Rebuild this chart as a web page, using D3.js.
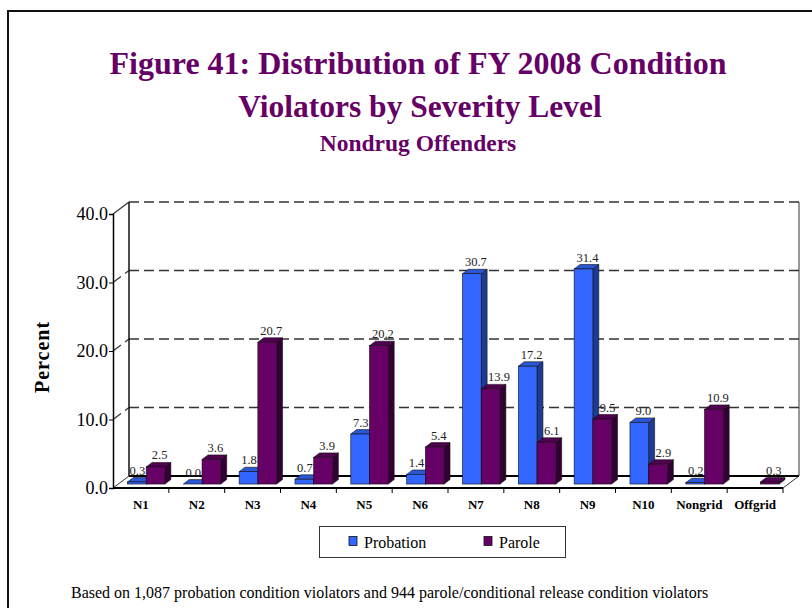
<!DOCTYPE html>
<html>
<head>
<meta charset="utf-8">
<script src="https://cdn.jsdelivr.net/npm/d3@7"></script>
<style>
  body { margin: 0; background: #fff; }
  text { font-family: "Liberation Serif", "Times New Roman", serif; }
</style>
</head>
<body>
<div id="chart"></div>
<script>
// data
var categories = ["N1", "N2", "N3", "N4", "N5", "N6", "N7", "N8", "N9", "N10", "Nongrid", "Offgrid"];
var series = ["Probation", "Parole"];
var probation = [0.3, 0.0, 1.8, 0.7, 7.3, 1.4, 30.7, 17.2, 31.4, 9.0, 0.2, null];
var parole = [2.5, 3.6, 20.7, 3.9, 20.2, 5.4, 13.9, 6.1, 9.5, 2.9, 10.9, 0.3];
var yTicks = [0, 10, 20, 30, 40];

var width = 812, height = 608;
var plot = {left: 113, right: 783, bottom: 488, top: 214};
var depth = {dx: 16, dy: -12};          // floor depth
var barFront = 0.33, barBack = 0.70;    // bar position inside the depth

var colors = {
    Probation: {front: "#3366ff", top: "#2b56d6", side: "#1f3a94"},
    Parole:    {front: "#660066", top: "#520052", side: "#330033"}
};
var purple = "#660066";

var svg = d3.select("#chart").append("svg")
    .attr("width", width)
    .attr("height", height);

// outer frame
svg.append("rect")
    .attr("x", 8).attr("y", 11)
    .attr("width", 830).attr("height", 640)
    .attr("fill", "none")
    .attr("stroke", "#111")
    .attr("stroke-width", 2);

// titles
svg.append("text")
    .attr("x", 418).attr("y", 74)
    .attr("text-anchor", "middle")
    .style("font-size", "32px").style("font-weight", "bold")
    .attr("fill", purple)
    .text("Figure 41: Distribution of FY 2008 Condition");
svg.append("text")
    .attr("x", 420).attr("y", 117)
    .attr("text-anchor", "middle")
    .style("font-size", "31.5px").style("font-weight", "bold")
    .attr("fill", purple)
    .text("Violators by Severity Level");
svg.append("text")
    .attr("x", 418).attr("y", 151)
    .attr("text-anchor", "middle")
    .style("font-size", "23.5px").style("font-weight", "bold")
    .attr("fill", purple)
    .text("Nondrug Offenders");

var y = d3.scaleLinear().domain([0, 40]).range([plot.bottom, plot.top]);
var x = d3.scaleBand().domain(categories).range([plot.left, plot.right]);
var xs = d3.scaleBand().domain(series).range([0, x.bandwidth()]).paddingOuter(0.49);

// back wall and side wall gridlines
var grid = svg.append("g");
yTicks.forEach(function(t) {
    if (t == 0) return;
    grid.append("line")
        .attr("x1", plot.left + depth.dx).attr("x2", plot.right + depth.dx)
        .attr("y1", y(t) + depth.dy).attr("y2", y(t) + depth.dy)
        .attr("stroke", "#333").attr("stroke-width", 1.3)
        .attr("stroke-dasharray", "10,5");
    grid.append("line")
        .attr("x1", plot.left).attr("x2", plot.left + depth.dx)
        .attr("y1", y(t)).attr("y2", y(t) + depth.dy)
        .attr("stroke", "#333").attr("stroke-width", 1.2)
        .attr("stroke-dasharray", t == 40 ? null : "10,5");
});

// back wall edges
grid.append("line")
    .attr("x1", plot.left + depth.dx).attr("x2", plot.left + depth.dx)
    .attr("y1", y(40) + depth.dy).attr("y2", y(0) + depth.dy)
    .attr("stroke", "#111").attr("stroke-width", 1.5);
grid.append("line")
    .attr("x1", plot.right + depth.dx).attr("x2", plot.right + depth.dx)
    .attr("y1", y(40) + depth.dy).attr("y2", y(0) + depth.dy)
    .attr("stroke", "#333").attr("stroke-width", 1);

// floor
var floor = [[plot.left, y(0)], [plot.right, y(0)],
             [plot.right + depth.dx, y(0) + depth.dy], [plot.left + depth.dx, y(0) + depth.dy]];
svg.append("polygon")
    .attr("points", floor.map(function(p) { return p.join(","); }).join(" "))
    .attr("fill", "#fff")
    .attr("stroke", "#333").attr("stroke-width", 1);
svg.append("line")
    .attr("x1", plot.left + depth.dx).attr("x2", plot.right + depth.dx)
    .attr("y1", y(0) + depth.dy).attr("y2", y(0) + depth.dy)
    .attr("stroke", "#000").attr("stroke-width", 2);
svg.append("line")
    .attr("x1", plot.left).attr("x2", plot.right)
    .attr("y1", y(0)).attr("y2", y(0))
    .attr("stroke", "#000").attr("stroke-width", 2);

// y axis
var yAxis = svg.append("g")
    .attr("transform", "translate(" + plot.left + ",0)")
    .call(d3.axisLeft(y).tickValues(yTicks).tickFormat(d3.format(".1f")).tickSize(4).tickPadding(1));
yAxis.select(".domain").attr("stroke", "#000").attr("stroke-width", 1.5);
yAxis.selectAll(".tick line").attr("stroke", "#000");
yAxis.selectAll(".tick text")
    .style("font-family", "Liberation Serif, serif")
    .style("font-size", "18px")
    .attr("fill", "#000");

// category boundary ticks
svg.append("g").selectAll("line")
    .data(categories.slice(1).concat(["end"]))
    .enter()
    .append("line")
    .attr("x1", function(d, i) { return plot.left + (i + 1) * x.step(); })
    .attr("x2", function(d, i) { return plot.left + (i + 1) * x.step(); })
    .attr("y1", y(0)).attr("y2", y(0) + 5)
    .attr("stroke", "#000").attr("stroke-width", 1);

// category labels
var xAxis = svg.append("g")
    .attr("transform", "translate(0," + (y(0) + 4) + ")")
    .call(d3.axisBottom(x).tickSize(0).tickPadding(8));
xAxis.select(".domain").remove();
xAxis.selectAll(".tick text")
    .style("font-family", "Liberation Serif, serif")
    .style("font-size", "13px")
    .style("font-weight", "bold")
    .attr("fill", "#000");

// 3d bars
var fdx = depth.dx * barFront, fdy = depth.dy * barFront;
var bdx = depth.dx * barBack, bdy = depth.dy * barBack;
var ddx = bdx - fdx, ddy = bdy - fdy;

function pts(a) { return a.map(function(p) { return p.join(","); }).join(" "); }

var barLayer = svg.append("g");
var labelLayer = svg.append("g");

function drawBars(name, values, other, side) {
    var c = colors[name];
    var g = barLayer.append("g");
    categories.forEach(function(cat, i) {
        var v = values[i];
        if (v == null) return;
        var x0 = x(cat) + xs(name) + fdx;
        var x1 = x0 + xs.bandwidth();
        var yb = y(0) + fdy;
        var yt = y(v) + fdy;
        // side
        g.append("polygon")
            .attr("points", pts([[x1, yt], [x1 + ddx, yt + ddy], [x1 + ddx, yb + ddy], [x1, yb]]))
            .attr("fill", c.side).attr("stroke", "#111").attr("stroke-width", 0.6);
        // top
        g.append("polygon")
            .attr("points", pts([[x0, yt], [x1, yt], [x1 + ddx, yt + ddy], [x0 + ddx, yt + ddy]]))
            .attr("fill", c.top).attr("stroke", "#111").attr("stroke-width", 0.6);
        // front
        g.append("rect")
            .attr("x", x0).attr("y", yt)
            .attr("width", x1 - x0).attr("height", Math.max(yb - yt, 0))
            .attr("fill", c.front).attr("stroke", "#111").attr("stroke-width", 0.6);
        // value
        var label = labelLayer.append("text")
            .attr("x", (x0 + x1) / 2 + 4)
            .attr("y", yt + ddy - 3)
            .attr("text-anchor", "middle")
            .style("font-size", "12.5px")
            .attr("fill", "#222")
            .text(d3.format(".1f")(v));
        // keep the label clear of a taller neighbouring bar
        if (other && other[i] != null && other[i] > v) {
            var w = label.node().getComputedTextLength();
            var cx = +label.attr("x");
            if (side == "left") cx = Math.max(cx, x0 + ddx + 1 + w / 2);
            else cx = Math.min(cx, x1 - 1 - w / 2);
            label.attr("x", cx);
        }
    });
}
drawBars("Probation", probation, parole, "right");
drawBars("Parole", parole, probation, "left");

// y title
svg.append("text")
    .attr("transform", "translate(49,357) rotate(-90)")
    .attr("text-anchor", "middle")
    .style("font-size", "20px").style("font-weight", "bold")
    .style("letter-spacing", "1px")
    .text("Percent");

// legend
var legend = svg.append("g");
legend.append("rect")
    .attr("x", 319.5).attr("y", 526.5)
    .attr("width", 246).attr("height", 31)
    .attr("fill", "#fff").attr("stroke", "#333").attr("stroke-width", 1);
var legendX = [349, 484];
series.forEach(function(s, i) {
    legend.append("rect")
        .attr("x", legendX[i]).attr("y", 536.5)
        .attr("width", 8).attr("height", 9)
        .attr("fill", colors[s].front).attr("stroke", "#111").attr("stroke-width", 0.8);
    legend.append("text")
        .attr("x", legendX[i] + 15).attr("y", 548)
        .style("font-size", "16px")
        .text(s);
});

// footnote
svg.append("text")
    .attr("x", 71).attr("y", 598)
    .style("font-size", "16px")
    .text("Based on 1,087 probation condition violators and 944 parole/conditional release condition violators");
</script>
</body>
</html>
